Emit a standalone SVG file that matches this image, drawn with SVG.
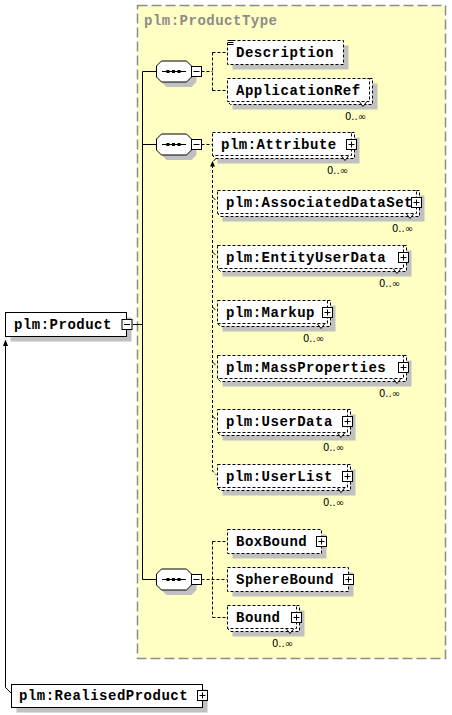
<svg xmlns="http://www.w3.org/2000/svg" xmlns:xlink="http://www.w3.org/1999/xlink" width="452" height="715" viewBox="0 0 452 715">
<style>
.bg{fill:#FFFFC4;stroke:#8c8c8c;stroke-width:1.5;stroke-dasharray:10 4}
.title{font-family:"Liberation Mono","DejaVu Sans Mono",monospace;font-weight:bold;font-size:14px;letter-spacing:0.5px;fill:#8c8c8c}
.lbl{font-family:"Liberation Mono","DejaVu Sans Mono",monospace;font-weight:bold;font-size:14px;letter-spacing:0.5px;fill:#000}
.occ{font-family:"DejaVu Sans","Liberation Sans",sans-serif;font-size:10px;fill:#000;text-anchor:end}
.sh{fill:#c0c0c0}
.box{fill:#fff;stroke:#000;stroke-width:1}
.dbox{fill:#fff;stroke:#000;stroke-width:1;stroke-dasharray:3 2}
.notch{fill:#fff;stroke:#000;stroke-width:1}
.ln{stroke:#000;stroke-width:1;fill:none}
.dl{stroke:#000;stroke-width:1;fill:none;stroke-dasharray:3 2}
.ah{fill:#000}
</style>
<defs>
<g id="plus"><rect x="-5" y="-5" width="10" height="10" fill="#fff" stroke="#000"/><path d="M-3 0H3M0 -3V3" stroke="#000"/></g>
<g id="minus"><rect x="-5" y="-5" width="10" height="10" fill="#fff" stroke="#000"/><path d="M-3 0H3" stroke="#000"/></g>
<g id="seq">
<polygon class="sh" points="166.5,-5.5 191.5,-5.5 196.5,-0.5 196.5,10.5 191.5,15.5 166.5,15.5 161.5,10.5 161.5,-0.5"/>
<polygon fill="#fff" stroke="#000" points="161.5,-10.5 186.5,-10.5 191.5,-5.5 191.5,5.5 186.5,10.5 161.5,10.5 156.5,5.5 156.5,-5.5"/>
<path d="M162 0H186" stroke="#000"/>
<rect x="166.5" y="-1.5" width="3" height="3" fill="#000"/>
<rect x="172" y="-1.5" width="3" height="3" fill="#000"/>
<rect x="177.5" y="-1.5" width="3" height="3" fill="#000"/>
<use xlink:href="#minus" href="#minus" x="196.5" y="0"/>
</g>
</defs>

<g id="productType">
<rect class="bg" x="137.5" y="5.5" width="308" height="653"/>
<text class="title" x="144" y="25">plm:ProductType</text>
</g>

<g id="connectors">
<path class="ln" d="M142.5 71.5V579.5M142.5 71.5H156.5M142.5 144.5H156.5M142.5 579.5H156.5M132.5 324.5H142.5"/>
<path class="dl" d="M201.5 71.5H212.5M212.5 52.5V90.5M212.5 52.5H227.5M212.5 90.5H227.5"/>
<path class="dl" d="M201.5 144.5H212.5"/>
<path class="dl" d="M212.5 165V471L216.5 475"/>
<polygon class="ah" points="212.5,161 210,166.5 215,166.5"/>
<path class="ln" d="M213.5 161L217.5 157"/>
<polygon class="ah" points="219,155.5 215,156.5 218,159.5"/>
<path class="ln" d="M212.5 197L215.5 200M212.5 252L215.5 255M212.5 307L215.5 310M212.5 362L215.5 365M212.5 416L215.5 419"/>
<path class="dl" d="M201.5 579.5H227.5M212.5 541.5V617.5M212.5 541.5H227.5M212.5 617.5H227.5"/>
<path class="ln" d="M11.5 693.5L5.5 687.5V345"/>
<polygon class="ah" points="5.5,339.5 3,346 8,346"/>
</g>

<g id="seq1"><use xlink:href="#seq" href="#seq" x="0" y="71.5"/></g>
<g id="seq2"><use xlink:href="#seq" href="#seq" x="0" y="144.5"/></g>
<g id="seq3"><use xlink:href="#seq" href="#seq" x="0" y="579.5"/></g>

<g id="product">
<rect class="sh" x="10.5" y="317.5" width="121" height="24"/>
<rect class="box" x="5.5" y="312.5" width="121" height="24"/>
<text class="lbl" x="14" y="328.5">plm:Product</text>
<use xlink:href="#minus" href="#minus" x="127" y="324.5"/>
</g>

<g id="realisedProduct">
<rect class="sh" x="16.5" y="689.5" width="191" height="23"/>
<rect class="box" x="11.5" y="684.5" width="191" height="23"/>
<text class="lbl" x="19" y="700">plm:RealisedProduct</text>
<use xlink:href="#plus" href="#plus" x="202.5" y="695.5"/>
</g>

<g id="description">
<rect class="sh" x="232.5" y="45.5" width="116" height="24"/>
<rect class="dbox" x="227.5" y="40.5" width="116" height="24"/>
<path class="ln" d="M228 40.5H233.5M228 42.5H233.5M228 44.5H233.5"/>
<text class="lbl" x="236" y="57">Description</text>
</g>

<g id="applicationRef">
<rect class="sh" x="232.5" y="83.5" width="145" height="26"/>
<path class="dbox" d="M369.5 78.5H372.5V104.5H230.5L227.5 101.5Z"/>
<rect class="dbox" x="227.5" y="78.5" width="142" height="23"/>
<polyline class="notch" points="359.5,102 363,106.5 366.5,102"/>
<text class="lbl" x="236" y="94.5">ApplicationRef</text>
<text class="occ" x="366" y="119.5">0..∞</text>
</g>

<g id="attribute">
<rect class="sh" x="217.5" y="137.5" width="142" height="26"/>
<path class="dbox" d="M351.5 132.5H354.5V158.5H215.5L212.5 155.5Z"/>
<rect class="dbox" x="212.5" y="132.5" width="139" height="23"/>
<polyline class="notch" points="341.5,156 345,160.5 348.5,156"/>
<text class="lbl" x="221" y="148.5">plm:Attribute</text>
<use xlink:href="#plus" href="#plus" x="351.5" y="144.5"/>
<text class="occ" x="348" y="173.5">0..∞</text>
</g>

<g id="associatedDataSet">
<rect class="sh" x="222.5" y="195.5" width="202" height="26"/>
<path class="dbox" d="M416.5 190.5H419.5V216.5H220.5L217.5 213.5Z"/>
<rect class="dbox" x="217.5" y="190.5" width="199" height="23"/>
<polyline class="notch" points="406.5,214 410,218.5 413.5,214"/>
<text class="lbl" x="226" y="206.5">plm:AssociatedDataSet</text>
<use xlink:href="#plus" href="#plus" x="416.5" y="202.5"/>
<text class="occ" x="413" y="231.5">0..∞</text>
</g>

<g id="entityUserData">
<rect class="sh" x="222.5" y="250.5" width="189" height="26"/>
<path class="dbox" d="M403.5 245.5H406.5V271.5H220.5L217.5 268.5Z"/>
<rect class="dbox" x="217.5" y="245.5" width="186" height="23"/>
<polyline class="notch" points="393.5,269 397,273.5 400.5,269"/>
<text class="lbl" x="226" y="261.5">plm:EntityUserData</text>
<use xlink:href="#plus" href="#plus" x="403.5" y="257.5"/>
<text class="occ" x="400" y="286.5">0..∞</text>
</g>

<g id="markup">
<rect class="sh" x="222.5" y="305.5" width="113" height="26"/>
<path class="dbox" d="M327.5 300.5H330.5V326.5H220.5L217.5 323.5Z"/>
<rect class="dbox" x="217.5" y="300.5" width="110" height="23"/>
<polyline class="notch" points="317.5,324 321,328.5 324.5,324"/>
<text class="lbl" x="226" y="316.5">plm:Markup</text>
<use xlink:href="#plus" href="#plus" x="327.5" y="312.5"/>
<text class="occ" x="324" y="341.5">0..∞</text>
</g>

<g id="massProperties">
<rect class="sh" x="222.5" y="360.5" width="189" height="26"/>
<path class="dbox" d="M403.5 355.5H406.5V381.5H220.5L217.5 378.5Z"/>
<rect class="dbox" x="217.5" y="355.5" width="186" height="23"/>
<polyline class="notch" points="393.5,379 397,383.5 400.5,379"/>
<text class="lbl" x="226" y="371.5">plm:MassProperties</text>
<use xlink:href="#plus" href="#plus" x="403.5" y="367.5"/>
<text class="occ" x="400" y="396.5">0..∞</text>
</g>

<g id="userData">
<rect class="sh" x="222.5" y="414.5" width="133" height="26"/>
<path class="dbox" d="M347.5 409.5H350.5V435.5H220.5L217.5 432.5Z"/>
<rect class="dbox" x="217.5" y="409.5" width="130" height="23"/>
<polyline class="notch" points="337.5,433 341,437.5 344.5,433"/>
<text class="lbl" x="226" y="425.5">plm:UserData</text>
<use xlink:href="#plus" href="#plus" x="347.5" y="421.5"/>
<text class="occ" x="344" y="450.5">0..∞</text>
</g>

<g id="userList">
<rect class="sh" x="222.5" y="469.5" width="133" height="26"/>
<path class="dbox" d="M347.5 464.5H350.5V490.5H220.5L217.5 487.5Z"/>
<rect class="dbox" x="217.5" y="464.5" width="130" height="23"/>
<polyline class="notch" points="337.5,488 341,492.5 344.5,488"/>
<text class="lbl" x="226" y="480.5">plm:UserList</text>
<use xlink:href="#plus" href="#plus" x="347.5" y="476.5"/>
<text class="occ" x="344" y="505.5">0..∞</text>
</g>

<g id="boxBound">
<rect class="sh" x="232.5" y="534.5" width="94" height="24"/>
<rect class="dbox" x="227.5" y="529.5" width="94" height="24"/>
<text class="lbl" x="236" y="545.5">BoxBound</text>
<use xlink:href="#plus" href="#plus" x="321.5" y="541.5"/>
</g>

<g id="sphereBound">
<rect class="sh" x="232.5" y="572.5" width="121" height="24"/>
<rect class="dbox" x="227.5" y="567.5" width="121" height="24"/>
<text class="lbl" x="236" y="583.5">SphereBound</text>
<use xlink:href="#plus" href="#plus" x="348.5" y="579.5"/>
</g>

<g id="bound">
<rect class="sh" x="232.5" y="610.5" width="72" height="26"/>
<path class="dbox" d="M296.5 605.5H299.5V631.5H230.5L227.5 628.5Z"/>
<rect class="dbox" x="227.5" y="605.5" width="69" height="23"/>
<polyline class="notch" points="286.5,629 290,633.5 293.5,629"/>
<text class="lbl" x="236" y="621.5">Bound</text>
<use xlink:href="#plus" href="#plus" x="296.5" y="617.5"/>
<text class="occ" x="293" y="646.5">0..∞</text>
</g>
</svg>
